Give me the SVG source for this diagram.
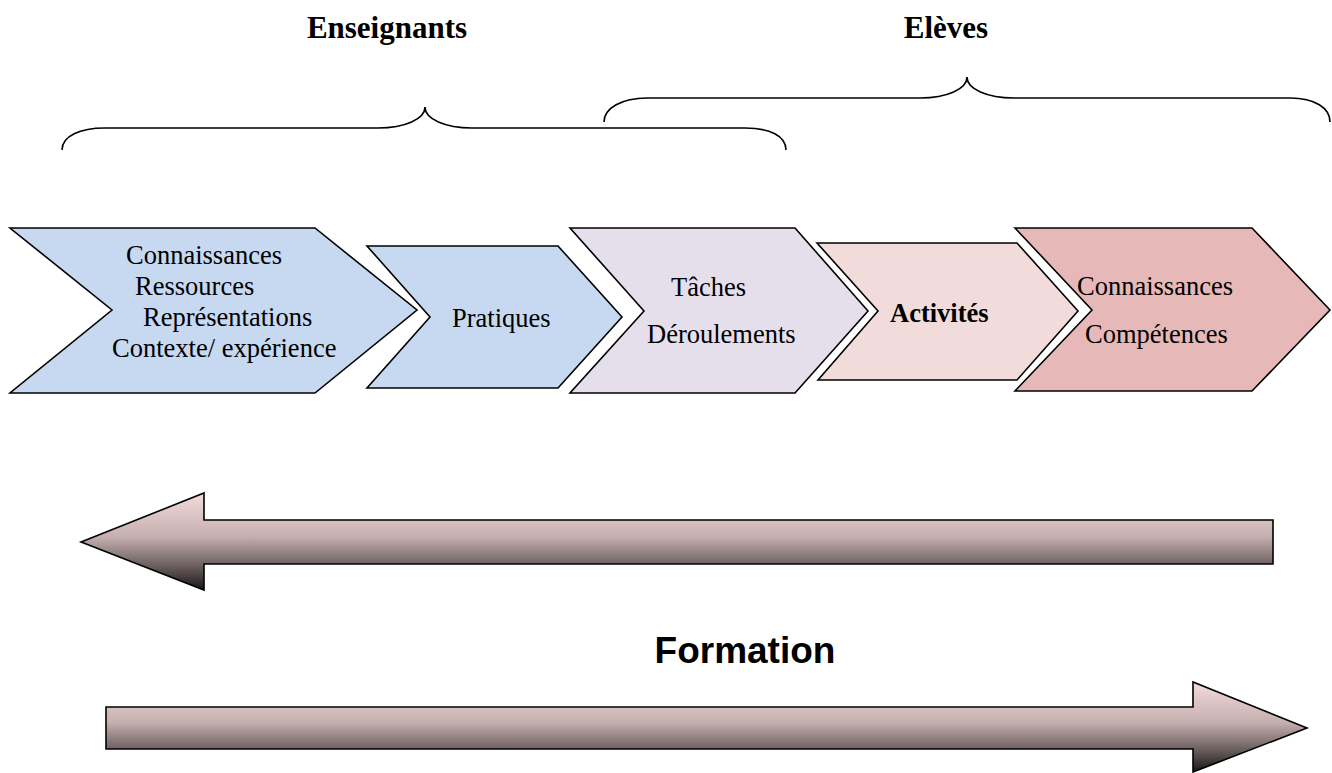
<svg xmlns="http://www.w3.org/2000/svg" width="1332" height="773" viewBox="0 0 1332 773">
<defs>
<style>
.chev{stroke:#000;stroke-width:1.6;stroke-linejoin:miter}
.t{font-family:"Liberation Serif","Times New Roman",serif;font-size:26.5px;fill:#000}
.b{font-family:"Liberation Serif","Times New Roman",serif;font-size:31px;font-weight:bold;fill:#000}
.brace{fill:none;stroke:#000;stroke-width:1.6}
.arr{stroke:#000;stroke-width:1.6;fill:url(#g)}
</style>
<linearGradient id="g" x1="0" y1="0" x2="0" y2="1">
<stop offset="0" stop-color="#f2dcdb"/>
<stop offset="0.45" stop-color="#c6afaf"/>
<stop offset="0.76" stop-color="#685c5c"/>
<stop offset="1" stop-color="#1a1616"/>
</linearGradient>
</defs>
<rect width="1332" height="773" fill="#fff"/>

<g id="label-enseignants"><text class="b" x="387" y="38" text-anchor="middle">Enseignants</text></g>
<g id="label-eleves"><text class="b" x="946" y="38" text-anchor="middle">Elèves</text></g>

<g id="connectors">
<path class="brace" d="M62,150 C62,136 80,128 105,128 L378,128 C405,128 425,119 425,107 C425,119 445,128 472,128 L745,128 C770,128 786,136 786,150"/>
<path class="brace" d="M604,122 C604,108 622,98 647,98 L920,98 C947,98 967,89 967,77 C967,89 987,98 1014,98 L1290,98 C1315,98 1330,108 1330,122"/>
<path id="arrow-left" class="arr" d="M81,542 L204,493 L204,520 L1273,520 L1273,564 L204,564 L204,590 Z"/>
<path id="arrow-right" class="arr" d="M1307,728 L1193,682 L1193,707 L106,707 L106,749 L1193,749 L1193,772 Z"/>
</g>

<g id="node-1">
<polygon class="chev" fill="#c6d9f1" points="10,228 315,228 417,310 315,393 10,393 112,310"/>
<text class="t" x="126" y="264">Connaissances</text>
<text class="t" x="135" y="295">Ressources</text>
<text class="t" x="143" y="326">Représentations</text>
<text class="t" x="112" y="357">Contexte/ expérience</text>
</g>
<g id="node-2">
<polygon class="chev" fill="#c6d9f1" points="367,246 558,246 622,317 558,388 367,388 430,317"/>
<text class="t" x="452" y="327">Pratiques</text>
</g>
<g id="node-3">
<polygon class="chev" fill="#e5dfec" points="570,228 795,228 868,311 795,393 570,393 644,311"/>
<text class="t" x="671" y="296">Tâches</text>
<text class="t" x="647" y="343">Déroulements</text>
</g>
<g id="node-4">
<polygon class="chev" fill="#f2dcdb" points="817,243 1017,243 1078,311 1017,380 818,380 878,311"/>
<text class="t" x="890" y="322" font-weight="bold">Activités</text>
</g>
<g id="node-5">
<polygon class="chev" fill="#e6b9b8" points="1015,228 1252,228 1330,310 1252,391 1015,391 1092,310"/>
<text class="t" x="1077" y="295">Connaissances</text>
<text class="t" x="1085" y="343">Compétences</text>
</g>

<g id="label-formation"><text x="745" y="663" text-anchor="middle" font-family="'Liberation Sans',Arial,sans-serif" font-size="37" font-weight="bold" fill="#000">Formation</text></g>
</svg>
